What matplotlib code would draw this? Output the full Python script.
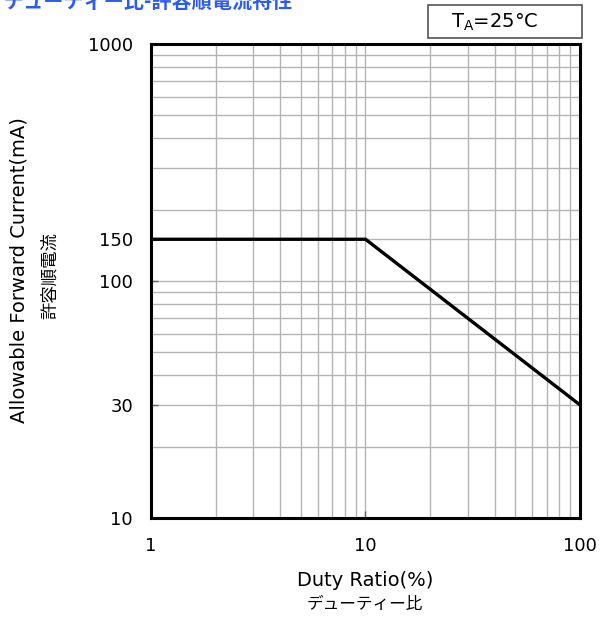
import matplotlib
matplotlib.use("Agg")
import matplotlib.pyplot as plt
from matplotlib.patches import Rectangle
from matplotlib.ticker import NullFormatter, LogLocator

plt.rcParams["font.family"] = ["DejaVu Sans", "Noto Sans CJK JP"]

# Derating curve: duty ratio (%) vs allowable forward current (mA)
duty_ratio = [1, 10, 100]
forward_current = [150, 150, 30]

x_ticks = [1, 10, 100]
y_ticks = [10, 30, 100, 150, 1000]

W, H = 600, 618
fig = plt.figure(figsize=(W / 100, H / 100), dpi=100)
ax = fig.add_axes([151 / W, 1 - 518 / H, (580 - 151) / W, (518 - 44) / H])

ax.set_xscale("log")
ax.set_yscale("log")
ax.set_xlim(1, 100)
ax.set_ylim(10, 1000)

ax.plot(duty_ratio, forward_current, color="black", lw=2.4, solid_joinstyle="miter", zorder=3)

# log grid, major + minor
ax.xaxis.set_minor_locator(LogLocator(base=10, subs=range(2, 10)))
ax.yaxis.set_minor_locator(LogLocator(base=10, subs=range(2, 10)))
ax.grid(which="both", color="#b4b4b4", lw=1.0)
ax.set_axisbelow(True)

ax.set_xticks(x_ticks)
ax.set_xticklabels([str(v) for v in x_ticks])
ax.set_yticks(y_ticks)
ax.set_yticklabels([str(v) for v in y_ticks])
ax.xaxis.set_minor_formatter(NullFormatter())
ax.yaxis.set_minor_formatter(NullFormatter())
ax.tick_params(which="major", direction="in", length=5, width=1, color="#666666",
               labelsize=13)
ax.tick_params(axis="y", which="major", pad=13)
ax.tick_params(axis="x", which="major", pad=14)
ax.tick_params(which="minor", length=0)

for s in ax.spines.values():
    s.set_linewidth(2.2)
    s.set_color("black")

# axis labels (English + Japanese)
fig.text(365 / W, 1 - 580 / H, "Duty Ratio(%)", ha="center", va="center", fontsize=14)
fig.text(365 / W, 1 - 605 / H, "デューティー比", ha="center", va="center", fontsize=12,
         family=["Noto Sans CJK JP"])
fig.text(19 / W, 1 - 270 / H, "Allowable Forward Current(mA)", ha="center", va="center",
         rotation=90, fontsize=14)
fig.text(50 / W, 1 - 276 / H, "許容順電流", ha="center", va="center", rotation=90,
         fontsize=12.5, family=["Noto Sans CJK JP"])

# title at the top-left
fig.text(4 / W, 1 - 8 / H, "デューティー比-許容順電流特性", ha="left", va="baseline",
         fontsize=14.5, fontweight="bold", color="#2b5cf0", family=["Noto Sans CJK JP"])

# condition box
fig.patches.append(Rectangle((428 / W, 1 - 38 / H), (582 - 428) / W, 33 / H,
                             transform=fig.transFigure, fill=False,
                             edgecolor="#555555", lw=1.2))
fig.text(495 / W, 1 - 22 / H, r"T$_\mathregular{A}$=25°C", ha="center", va="center",
         fontsize=14)

fig.savefig("out.png", dpi=100)
